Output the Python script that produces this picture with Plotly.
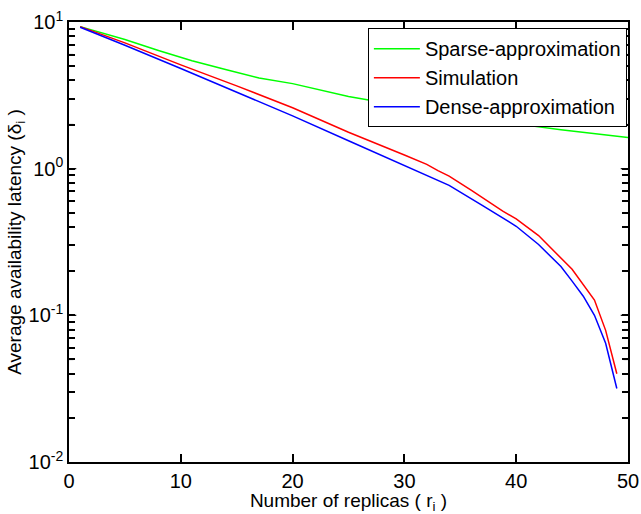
import plotly.graph_objects as go

# Sparse-approximation (green)
sparse_x = [1, 5, 8, 11, 14, 17, 20, 25, 30, 34, 37, 40, 44, 50]
sparse_y = [9.3, 7.6, 6.4, 5.45, 4.75, 4.15, 3.8, 3.1, 2.66, 2.4, 2.2, 2.02, 1.84, 1.63]

# Simulation (red)
sim_x = [1, 5, 10, 15, 20, 25, 30, 31, 32, 33, 34, 36, 38.8, 40, 42, 45, 47, 48, 49]
sim_y = [9.3, 7.2, 5.1, 3.67, 2.6, 1.77, 1.24, 1.15, 1.07, 0.97, 0.89, 0.71, 0.513, 0.455, 0.35, 0.206, 0.127, 0.079, 0.040]

# Dense-approximation (blue)
dense_x = [1, 5, 10, 15, 20, 25, 30, 34, 37, 40, 42, 44, 45, 46, 47, 48, 49]
dense_y = [9.2, 6.95, 4.82, 3.33, 2.29, 1.55, 1.05, 0.77, 0.56, 0.405, 0.304, 0.215, 0.171, 0.135, 0.10, 0.0645, 0.0317]

x_ticks = [0, 10, 20, 30, 40, 50]
y_major = [0.01, 0.1, 1, 10]
y_major_text = ["10<sup>-2</sup>", "10<sup>-1</sup>", "10<sup>0</sup>", "10<sup>1</sup>"]
y_minor = [m * d for d in [0.01, 0.1, 1] for m in range(2, 10)]

y_tickvals = y_major + y_minor
y_ticktext = y_major_text + [""] * len(y_minor)

font_family = "Liberation Sans, Arial, Helvetica, sans-serif"

fig = go.Figure()
fig.add_trace(go.Scatter(x=sparse_x, y=sparse_y, mode="lines", name="Sparse-approximation",
                         line=dict(color="#00ff00", width=1.5)))
fig.add_trace(go.Scatter(x=sim_x, y=sim_y, mode="lines", name="Simulation",
                         line=dict(color="#ff0000", width=1.5)))
fig.add_trace(go.Scatter(x=dense_x, y=dense_y, mode="lines", name="Dense-approximation",
                         line=dict(color="#0000ff", width=1.5)))

# inward tick marks on all four sides, placed at the axis tick values
tick_style = dict(color="black", width=1.2)
x_len = 0.016   # fraction of plot height
y_len_major = 0.013  # fraction of plot width
y_len_minor = 0.008
for xv in x_ticks[1:-1]:
    fig.add_shape(type="line", xref="x", yref="paper", x0=xv, x1=xv, y0=0, y1=x_len, line=tick_style, layer="above")
    fig.add_shape(type="line", xref="x", yref="paper", x0=xv, x1=xv, y0=1, y1=1 - x_len, line=tick_style, layer="above")
for yv in y_major[1:-1] + y_minor:
    ln = y_len_major if yv in y_major else y_len_minor
    fig.add_shape(type="line", xref="paper", yref="y", x0=0, x1=ln, y0=yv, y1=yv, line=tick_style, layer="above")
    fig.add_shape(type="line", xref="paper", yref="y", x0=1, x1=1 - ln, y0=yv, y1=yv, line=tick_style, layer="above")

fig.update_layout(
    width=641, height=514,
    margin=dict(l=69, r=13, t=22, b=52, autoexpand=False),
    paper_bgcolor="white", plot_bgcolor="white",
    font=dict(family=font_family, size=19, color="black"),
    showlegend=True,
    legend=dict(x=0.998, y=0.986, xanchor="right", yanchor="top",
                bgcolor="white", bordercolor="black", borderwidth=1,
                font=dict(size=20), tracegroupgap=0, itemwidth=46),
    xaxis=dict(range=[0, 50], tickmode="array", tickvals=x_ticks, ticks="inside", ticklen=8, tickwidth=1.5,
               tickcolor="black", automargin=False,
               showline=True, linecolor="black", linewidth=1.5, mirror="allticks",
               showgrid=False, zeroline=False, tickfont=dict(size=20),
               title=dict(text="Number of replicas ( r<sub>i</sub> )", font=dict(size=19), standoff=2)),
    yaxis=dict(type="log", range=[-2, 1], tickmode="array", tickvals=y_tickvals, ticktext=y_ticktext,
               ticks="inside", ticklen=6, tickwidth=1.5, tickcolor="black", automargin=False,
               showline=True, linecolor="black", linewidth=1.5, mirror="allticks",
               showgrid=False, zeroline=False, tickfont=dict(size=20),
               title=dict(text="Average availability latency (δ<sub>i</sub> )", font=dict(size=19), standoff=2)),
)

fig.write_html("out.html")
